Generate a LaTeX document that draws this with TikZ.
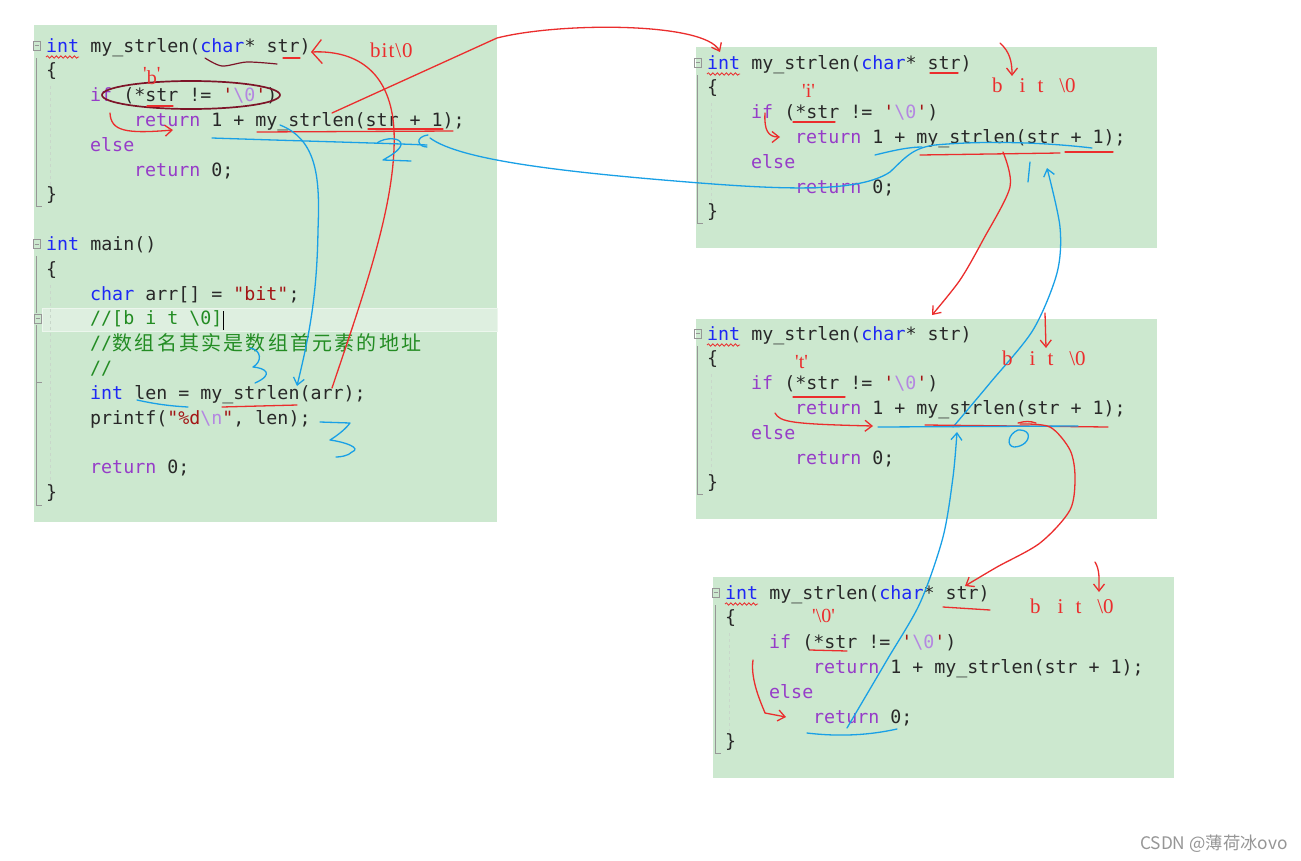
\documentclass[tikz,border=0pt]{standalone}
\usepackage{fontspec}
\setmonofont{DejaVu Sans Mono}
\newfontfamily\cjk{Noto Sans CJK SC}
\newfontfamily\handfont{Liberation Serif}
\usepackage{xcolor}
\usepackage{tikz}
\usetikzlibrary{arrows.meta, decorations.pathmorphing}
\definecolor{CodeBg}{RGB}{204,232,207}
\definecolor{LineHl}{RGB}{222,239,224}
\definecolor{LineEdge}{RGB}{236,246,237}
\definecolor{KwBlue}{RGB}{30,40,245}
\definecolor{CtlPurple}{RGB}{150,60,200}
\definecolor{CodeInk}{RGB}{40,40,40}
\definecolor{StrRed}{RGB}{163,21,21}
\definecolor{EscPurple}{RGB}{180,135,225}
\definecolor{CmtGreen}{RGB}{35,140,35}
\definecolor{GutterGray}{RGB}{150,150,150}
\definecolor{GuideGray}{RGB}{200,215,202}
\definecolor{PenRed}{RGB}{235,45,45}
\definecolor{PenBlue}{RGB}{25,160,230}
\definecolor{PenDark}{RGB}{125,20,40}
\definecolor{WmGray}{RGB}{150,150,150}
\tikzset{
  >={Straight Barb[length=7pt,width=11pt]},
  % pannelli e codice
  panel/.style={fill=CodeBg},
  code/.style={anchor=base west,inner sep=0pt,text=CodeInk,font=\ttfamily\fontsize{18.3}{22}\selectfont},
  cjkcode/.style={anchor=base west,inner sep=0pt,text=CmtGreen,font=\cjk\fontsize{20}{22}\selectfont},
  gutter/.style={draw=GutterGray,line width=0.8pt},
  guide/.style={draw=GuideGray,dash pattern=on 3pt off 3pt,line width=0.7pt},
  % tratti a mano
  redpen/.style={draw=PenRed,line width=1.3pt,line cap=round,line join=round},
  bluepen/.style={draw=PenBlue,line width=1.3pt,line cap=round,line join=round},
  darkpen/.style={draw=PenDark,line width=1.7pt,line cap=round},
  squiggle/.style={draw=PenRed,line width=0.8pt,decorate,decoration={snake,amplitude=1.2pt,segment length=4.5pt}},
  hand/.style={anchor=base west,inner sep=0pt,text=PenRed,font=\handfont\fontsize{21}{24}\selectfont},
  handsmall/.style={hand,font=\handfont\fontsize{20}{22}\selectfont}
}
\newcommand{\kw}[1]{\textcolor{KwBlue}{#1}}
\newcommand{\ctl}[1]{\textcolor{CtlPurple}{#1}}
\newcommand{\nulchar}{\textcolor{StrRed}{'}\textcolor{EscPurple}{\textbackslash0}\textcolor{StrRed}{'}}
\newcommand{\bitzero}{b\hspace{17pt}i\hspace{12pt}t\hspace{16pt}\textbackslash0}

\begin{document}
\begin{tikzpicture}[x=1pt,y=-1pt]
  \useasboundingbox (0,0) rectangle (1301,860);
  \fill[white] (0,0) rectangle (1301,860);
  % pannelli
  \fill[panel] (34,25) rectangle (497,522);
  \fill[panel] (696,47) rectangle (1157,248);
  \fill[panel] (696,319) rectangle (1157,519);
  \fill[panel] (713,577) rectangle (1174,778);
  \filldraw[fill=LineHl,draw=LineEdge,line width=1pt] (42,308) rectangle (497,331);

  % my_strlen nei quattro pannelli
  \foreach \px/\py [count=\k] in {46/46,707/63,707/334,725/593}{
    \draw[gutter] (\px-13,\py-5) rectangle (\px-6,\py+4);
    \draw[gutter] (\px-11.5,\py-0.5) -- (\px-7.5,\py-0.5);
    \draw[gutter] (\px-9.5,\py+12) -- (\px-9.5,\py+160) -- (\px-4,\py+160);
    \draw[guide] (\px+4,\py+40) -- (\px+4,\py+140);
    \node[code] (sig\k) at (\px,\py+6) {\kw{int} my\_strlen(\kw{char}* str)};
    \node[code] (ob\k) at (\px,\py+30.8) {\{};
    \node[code] (ifl\k) at (\px+44,\py+55.6) {\ctl{if} (*str != \nulchar)};
    \node[code] (rec\k) at (\px+88,\py+80.4) {\ctl{return} 1 + my\_strlen(str + 1);};
    \node[code] (els\k) at (\px+44,\py+105.2) {\ctl{else}};
    \node[code] (ret\k) at (\px+88,\py+130) {\ctl{return} 0;};
    \node[code] (cb\k) at (\px,\py+154.8) {\}};
    \draw[squiggle] (\px,\py+11) -- (\px+33,\py+11);
  }

  % main
  \draw[gutter] (33,239.5) rectangle (40,248.5);
  \draw[gutter] (34.5,244) -- (38.5,244);
  \draw[gutter] (36.5,256) -- (36.5,313);
  \draw[gutter] (34,314) rectangle (41,323);
  \draw[gutter] (35.5,318.5) -- (39.5,318.5);
  \draw[gutter] (36.5,325) -- (36.5,505) -- (42,505);
  \draw[gutter] (36.5,382) -- (42,382);
  \draw[guide] (50,285) -- (50,485);
  \node[code] (mainsig) at (46,250.4) {\kw{int} main()};
  \node[code] (mob) at (46,275.2) {\{};
  \node[code] (arr) at (90,300) {\kw{char} arr[] = \textcolor{StrRed}{"bit"};};
  \node[code] (cm1) at (90,324.8) {\textcolor{CmtGreen}{//[b i t \textbackslash0]}};
  \draw[black,line width=1pt] (223,311) -- (223,330);
  \node[code] (cm2) at (90,349.6) {\textcolor{CmtGreen}{//}};
  \foreach \c [count=\k from 0] in {数,组,名,其,实,是,数,组,首,元,素,的,地,址}
    \node[cjkcode] (cj\k) at ({112.5+22.2*\k},350.6) {\c};
  \node[code] (cm3) at (90,374.4) {\textcolor{CmtGreen}{//}};
  \node[code] (len) at (90,399.2) {\kw{int} len = my\_strlen(arr);};
  \node[code] (pf) at (90,424) {printf(\textcolor{StrRed}{"\%d}\textcolor{EscPurple}{\textbackslash n}\textcolor{StrRed}{"}, len);};
  \node[code] (mret) at (90,473.6) {\ctl{return} 0;};
  \node[code] (mcb) at (46,498.4) {\}};

  % punti di aggancio dei tratti lunghi
  \coordinate (p1call) at (332,113);
  \coordinate (p2top) at (720,52);
  \coordinate (mcall) at (332,388);
  \coordinate (p1sig) at (311,52);

  % annotazioni pannello 1
  \draw[darkpen] (191,95) ellipse [x radius=89,y radius=14];
  \draw[darkpen,line width=1.2pt] plot[smooth] coordinates {(205,58) (222,66) (247,62) (277,64)};
  \draw[redpen] (283,58) -- (300,58);
  \draw[redpen] (147,106) -- (173,106);
  \node[hand] (bit1) at (370,57) {b\hspace{1pt}i\hspace{1pt}t\hspace{1pt}\textbackslash\hspace{1pt}0};
  \node[handsmall] (chb) at (143,84) {\raisebox{4pt}{'}b\raisebox{4pt}{'}};
  \draw[redpen,->] (110,113) .. controls (111,131) and (125,134) .. (173,130);
  \draw[redpen] (257,132) -- (453,131);
  \draw[redpen] (368,129) -- (443,129);
  \draw[redpen,->] (p1call) -- (497,38) .. controls (560,22) and (705,22) .. (p2top);
  \draw[redpen,-{Straight Barb[length=10pt,width=24pt]}] (mcall) .. controls (365,290) and (397,200) .. (394,130) .. controls (391,75) and (360,50) .. (p1sig);
  \draw[bluepen,->] (280,125) .. controls (318,140) and (320,180) .. (318,230) .. controls (317,300) and (308,340) .. (297,386);
  \draw[bluepen] (212,138) .. controls (300,141) and (380,143) .. (427,145);
  \draw[bluepen] (428,135) .. controls (414,137) and (418,147) .. (427,147);
  \draw[bluepen] (430,138) .. controls (460,160) and (560,172) .. (700,183) .. controls (790,190) and (860,192) .. (890,172) .. controls (905,158) and (912,148) .. (935,145) .. controls (990,140) and (1050,143) .. (1092,148);
  \draw[bluepen] (875,155) .. controls (895,150) and (910,147) .. (922,147);
  \draw[bluepen] (377,143) .. controls (385,137) and (402,137) .. (401,145) .. controls (399,151) and (390,156) .. (383,160) -- (411,161);
  \draw[bluepen] (250,348) .. controls (262,350) and (262,362) .. (253,367) .. controls (265,368) and (275,374) .. (255,383);
  \draw[bluepen] (320,422) -- (350,423) .. controls (345,430) and (335,437) .. (330,440) .. controls (345,442) and (362,448) .. (352,452) .. controls (348,456) and (340,457) .. (336,457);
  \draw[bluepen] (137,400) .. controls (155,404) and (170,406) .. (188,407);
  \draw[redpen] (222,407) -- (297,405);

  % annotazioni pannello 2
  \draw[redpen,->] (1000,43) .. controls (1010,52) and (1012,62) .. (1012,76);
  \node[hand] (bit2) at (992,92) {\bitzero};
  \node[handsmall] (chi) at (802,97) {'i'};
  \draw[redpen] (930,73) -- (958,73);
  \draw[redpen] (793,122) -- (835,122);
  \draw[redpen,->] (765,113) .. controls (764,130) and (768,137) .. (780,137);
  \draw[redpen] (920,155) -- (1060,153);
  \draw[redpen] (1065,152) -- (1113,152);
  \draw[redpen,->] plot[smooth] coordinates {(1003,152) (1010,187) (983,240) (960,280) (932,315)};
  \draw[bluepen] (1030,162) -- (1028,182);
  \draw[bluepen,->] plot[smooth] coordinates {(953,427) (990,383) (1033,330) (1057,273) (1060,227) (1047,168)};

  % annotazioni pannello 3
  \draw[redpen,->] (1045,313) -- (1046,348);
  \node[hand] (bit3) at (1002,365) {\bitzero};
  \node[handsmall] (cht) at (795,368) {'t'};
  \draw[redpen] (793,397) -- (845,397);
  \draw[redpen,->] (775,413) .. controls (780,422) and (790,424) .. (873,426);
  \draw[redpen] (925,425) -- (1108,427);
  \draw[redpen] (1018,423) .. controls (1025,421) and (1030,421) .. (1036,423);
  \draw[bluepen] (878,427) -- (1078,426);
  \draw[bluepen] (1018,430) .. controls (1008,434) and (1006,446) .. (1014,447) .. controls (1022,447) and (1030,441) .. (1028,434) .. controls (1026,430) and (1021,430) .. (1018,430);
  \draw[redpen,->] plot[smooth] coordinates {(1020,424) (1050,427) (1070,450) (1075,477) (1070,510) (1040,543) (997,567) (965,586)};
  \draw[bluepen,->] plot[smooth] coordinates {(847,728) (887,660) (920,603) (943,537) (953,477) (957,432)};

  % annotazioni pannello 4
  \draw[redpen,->] (1095,562) .. controls (1100,570) and (1099,580) .. (1099,592);
  \node[hand] (bit4) at (1030,613) {\bitzero};
  \node[handsmall] (chz) at (812,622) {'\textbackslash0'};
  \draw[redpen] (943,607) -- (990,610);
  \draw[redpen] (810,650) -- (847,651);
  \draw[redpen,->] (753,660) .. controls (750,680) and (762,705) .. (765,713) -- (786,717);
  \draw[bluepen] (807,733) .. controls (840,737) and (870,735) .. (897,729);

  % firma
  \node[anchor=base west,inner sep=0pt,text=WmGray,font=\cjk\fontsize{17.3}{19}\selectfont] (wm) at (1140,849) {CSDN @薄荷冰ovo};
\end{tikzpicture}
\end{document}
